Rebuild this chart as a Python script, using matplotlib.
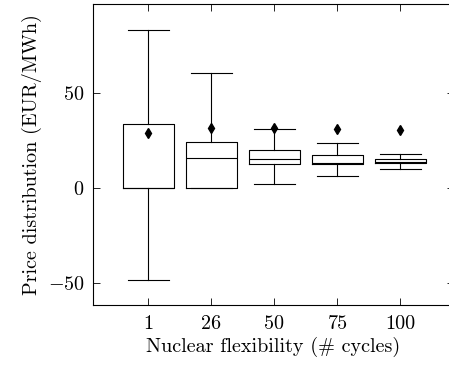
import matplotlib
matplotlib.use("Agg")
import matplotlib.pyplot as plt

# box statistics (EUR/MWh)
cycles = ["1", "26", "50", "75", "100"]
whisker_low = [-48.9, 0.0, 2.0, 6.0, 10.0]
q1 = [0.0, 0.0, 12.7, 12.5, 12.8]
median = [0.0, 15.8, 14.9, 12.8, 13.8]
q3 = [33.4, 24.2, 20.0, 17.1, 14.9]
whisker_high = [83.4, 60.4, 31.1, 23.6, 17.6]
mean = [28.9, 31.6, 31.3, 30.7, 30.4]

plt.rcParams["font.family"] = "serif"
plt.rcParams["font.serif"] = ["cmr10", "DejaVu Serif"]
plt.rcParams["axes.formatter.use_mathtext"] = True
plt.rcParams["mathtext.fontset"] = "cm"

fig = plt.figure(figsize=(4.49, 3.65), dpi=100)
# right spine sits just outside the picture, as in the original
ax = fig.add_axes([93 / 449, 59.7 / 365, 361 / 449, 301 / 365])

stats = []
for i, lab in enumerate(cycles):
    stats.append({
        "label": lab,
        "whislo": whisker_low[i],
        "q1": q1[i],
        "med": median[i],
        "q3": q3[i],
        "whishi": whisker_high[i],
        "mean": mean[i],
        "fliers": [],
    })

lw = 0.8
ax.bxp(
    stats,
    positions=range(1, len(cycles) + 1),
    widths=0.8,
    capwidths=0.64,
    showmeans=True,
    boxprops=dict(color="black", linewidth=lw),
    whiskerprops=dict(color="black", linewidth=lw),
    capprops=dict(color="black", linewidth=lw),
    medianprops=dict(color="black", linewidth=lw),
    meanprops=dict(marker="d", markerfacecolor="black", markeredgecolor="black",
                   markersize=5),
)

ax.set_xlim(0.12, 5.85)
ax.set_ylim(-62.0, 96.7)
ax.set_yticks([-50, 0, 50])
ax.tick_params(direction="in", top=True, right=True, length=5, width=0.6,
               labelsize=14.5)
ax.tick_params(axis="y", pad=6)
ax.tick_params(axis="x", pad=7)
for s in ax.spines.values():
    s.set_linewidth(0.8)

ax.set_xlabel("Nuclear flexibility (# cycles)", fontsize=14.5, labelpad=3)
ax.set_ylabel("Price distribution (EUR/MWh)", fontsize=14.5, labelpad=4)

fig.savefig("out.png", dpi=100)
